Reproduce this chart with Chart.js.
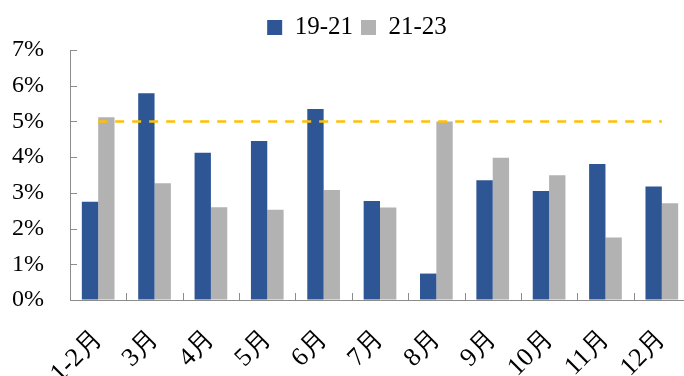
<!DOCTYPE html>
<html>
<head>
<meta charset="utf-8">
<script src="https://cdn.jsdelivr.net/npm/chart.js@4/dist/chart.umd.min.js"></script>
<style>
  html, body { margin: 0; padding: 0; background: #fff; overflow: hidden; }
  #wrap { width: 714px; height: 376px; position: relative; }
</style>
</head>
<body>
<div id="wrap"><canvas id="chart"></canvas></div>
<script>
const categories = ['1-2月', '3月', '4月', '5月', '6月', '7月', '8月', '9月', '10月', '11月', '12月'];
const series1921 = [2.75, 5.79, 4.12, 4.45, 5.35, 2.77, 0.74, 3.35, 3.05, 3.81, 3.18];
const series2123 = [5.12, 3.27, 2.60, 2.53, 3.08, 2.59, 5.00, 3.98, 3.49, 1.75, 2.71];
const refLine = [5, 5, 5, 5, 5, 5, 5, 5, 5, 5, 5];
const yTicks = [0, 1, 2, 3, 4, 5, 6, 7];

const axisColor = '#8c8c8c';
const serif = '"Liberation Serif", "Times New Roman", serif';

// short tick marks pointing into the plot, like the original
const innerTicks = {
    id: 'innerTicks',
    afterDatasetsDraw(chart) {
        const { ctx, chartArea, scales: { x, y } } = chart;
        ctx.save();
        ctx.strokeStyle = axisColor;
        ctx.lineWidth = 1;
        ctx.beginPath();
        yTicks.forEach(v => {
            const py = Math.round(y.getPixelForValue(v)) + 0.5;
            ctx.moveTo(chartArea.left, py);
            ctx.lineTo(chartArea.left + 7, py);
        });
        for (let i = 1; i <= categories.length; i++) {
            const a = x.getPixelForValue(i - 1);
            const b = i < categories.length ? x.getPixelForValue(i) : a + (a - x.getPixelForValue(i - 2));
            const px = Math.round((a + b) / 2) + 0.5;
            ctx.moveTo(px, chartArea.bottom);
            ctx.lineTo(px, chartArea.bottom - 7);
        }
        ctx.stroke();
        ctx.restore();
    }
};

new Chart(document.getElementById('chart'), {
    data: {
        labels: categories,
        datasets: [
            {
                type: 'line',
                label: 'ref',
                data: refLine,
                borderColor: '#FFC000',
                borderWidth: 2.5,
                borderDash: [9, 8],
                pointRadius: 0,
                fill: false,
                order: 0
            },
            {
                type: 'bar',
                label: '19-21',
                data: series1921,
                backgroundColor: '#2E5594',
                categoryPercentage: 0.58,
                barPercentage: 1.0,
                order: 1
            },
            {
                type: 'bar',
                label: '21-23',
                data: series2123,
                backgroundColor: '#B2B2B2',
                categoryPercentage: 0.58,
                barPercentage: 1.0,
                order: 1
            }
        ]
    },
    options: {
        responsive: true,
        maintainAspectRatio: false,
        animation: false,
        layout: { padding: { top: 7, right: 0, left: 0, bottom: 0 } },
        plugins: {
            legend: {
                position: 'top',
                labels: {
                    filter: item => item.text !== 'ref',
                    boxWidth: 15,
                    boxHeight: 15,
                    padding: 8,
                    color: '#000',
                    font: { family: serif, size: 25 }
                }
            },
            tooltip: { enabled: false }
        },
        scales: {
            x: {
                grid: { display: true, drawOnChartArea: false, drawTicks: false },
                border: { display: true, color: axisColor, width: 1 },
                ticks: {
                    color: '#000',
                    font: { family: serif, size: 26 },
                    minRotation: 45,
                    maxRotation: 45,
                    padding: 24
                },
                afterFit(scale) { scale.height = 76; }
            },
            y: {
                min: 0,
                max: 7,
                grid: { display: true, drawOnChartArea: false, drawTicks: false },
                border: { display: true, color: axisColor, width: 1 },
                ticks: {
                    stepSize: 1,
                    padding: 26,
                    color: '#000',
                    font: { family: serif, size: 24 },
                    callback: v => v + '%'
                },
                afterFit(scale) { scale.width = 70; }
            },
            // empty strip on the right: the plot runs past the picture's edge
            yRight: {
                type: 'linear',
                position: 'right',
                grid: { display: false },
                border: { display: false },
                ticks: { display: false },
                afterFit(scale) { scale.width = 24; }
            }
        }
    },
    plugins: [innerTicks]
});
</script>
</body>
</html>
